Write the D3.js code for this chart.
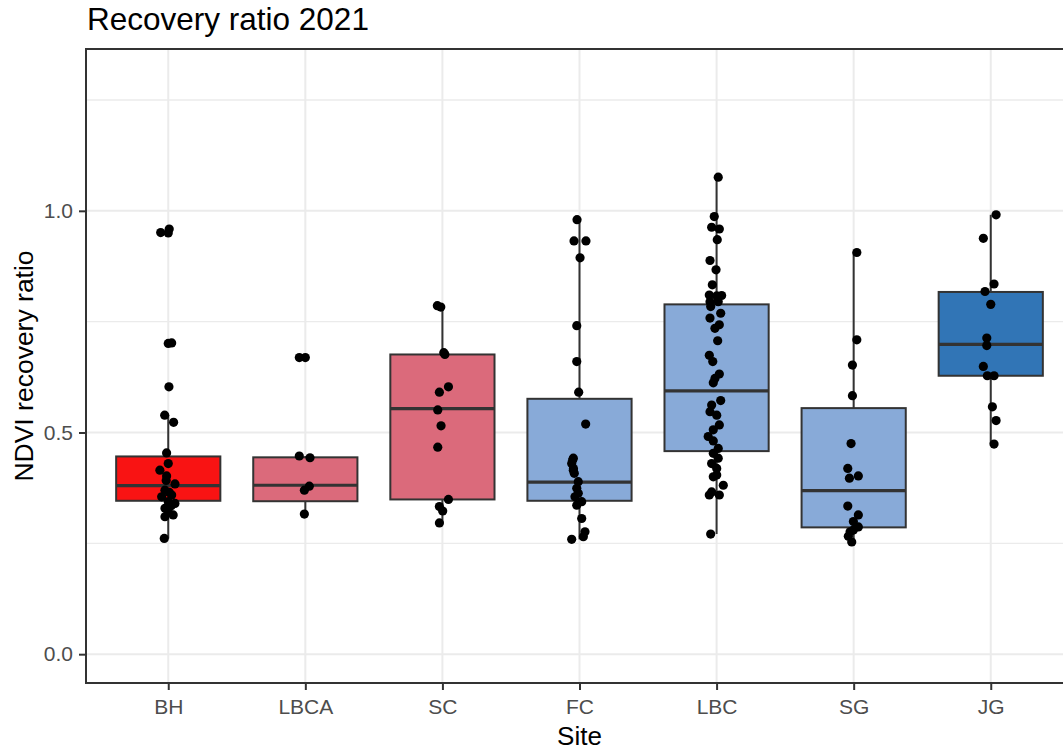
<!DOCTYPE html>
<html>
<head>
<meta charset="utf-8">
<script src="https://cdn.jsdelivr.net/npm/d3@7"></script>
<style>
  html, body { margin: 0; padding: 0; background: #ffffff; }
  svg { display: block; font-family: "Liberation Sans", Arial, sans-serif; }
</style>
</head>
<body>
<svg id="chart" width="1063" height="751"></svg>
<script>
// Sites along the x axis
const sites = ["BH", "LBCA", "SC", "FC", "LBC", "SG", "JG"];

// Box summaries per site (same order as sites)
const lowerWhisker = [0.261, 0.316, 0.296, 0.259, 0.271, 0.253, 0.474];
const lowerHinge   = [0.346, 0.345, 0.349, 0.346, 0.458, 0.286, 0.628];
const medians      = [0.380, 0.381, 0.554, 0.388, 0.594, 0.369, 0.699];
const upperHinge   = [0.446, 0.444, 0.676, 0.576, 0.789, 0.555, 0.817];
const upperWhisker = [0.539, 0.447, 0.786, 0.980, 1.076, 0.906, 0.991];

// Observations per site: [NDVI recovery ratio, horizontal jitter in site units]
const pointsBH = [
  [0.951, -0.055], [0.950, 0.000], [0.959, 0.007], [0.701, 0.000], [0.702, 0.025],
  [0.603, 0.005], [0.539, -0.026], [0.523, 0.039], [0.454, -0.012], [0.430, 0.000],
  [0.415, -0.061], [0.402, -0.012], [0.392, -0.015], [0.384, 0.049], [0.370, -0.024],
  [0.365, 0.007], [0.359, 0.025], [0.355, -0.048], [0.344, 0.000], [0.340, 0.049],
  [0.335, 0.022], [0.329, -0.024], [0.321, 0.000], [0.314, 0.036], [0.310, -0.024],
  [0.261, -0.029]
];
const pointsLBCA = [
  [0.669, -0.044], [0.669, 0.000], [0.447, -0.044], [0.443, 0.034],
  [0.379, 0.029], [0.370, -0.007], [0.316, -0.007]
];
const pointsSC = [
  [0.786, -0.037], [0.783, -0.012], [0.680, 0.010], [0.676, 0.018], [0.603, 0.044],
  [0.591, -0.022], [0.551, -0.034], [0.515, -0.010], [0.467, -0.034], [0.349, 0.044],
  [0.333, -0.022], [0.323, 0.002], [0.296, -0.022]
];
const pointsFC = [
  [0.980, -0.018], [0.932, -0.040], [0.932, 0.047], [0.894, 0.004], [0.741, -0.020],
  [0.660, -0.020], [0.591, -0.006], [0.519, 0.045], [0.442, -0.045], [0.438, -0.050],
  [0.430, -0.057], [0.419, -0.044], [0.415, -0.045], [0.408, -0.038], [0.389, -0.009],
  [0.374, -0.020], [0.363, -0.009], [0.355, -0.033], [0.344, 0.016], [0.336, -0.020],
  [0.306, 0.016], [0.276, 0.040], [0.265, 0.028], [0.259, -0.057]
];
const pointsLBC = [
  [1.076, 0.012], [0.987, -0.017], [0.963, -0.036], [0.959, 0.020], [0.935, 0.005],
  [0.888, -0.048], [0.867, -0.004], [0.833, -0.031], [0.810, -0.053], [0.808, 0.001],
  [0.809, 0.037], [0.795, -0.048], [0.795, 0.012], [0.784, -0.043], [0.769, 0.030],
  [0.758, -0.048], [0.743, 0.020], [0.735, -0.012], [0.707, 0.008], [0.674, -0.053],
  [0.660, -0.028], [0.632, 0.020], [0.622, -0.012], [0.612, -0.024], [0.572, 0.030],
  [0.562, -0.036], [0.547, -0.048], [0.539, 0.001], [0.517, 0.020], [0.506, -0.024],
  [0.491, -0.061], [0.481, -0.024], [0.464, 0.012], [0.453, -0.024], [0.442, 0.012],
  [0.430, -0.036], [0.419, 0.001], [0.404, 0.001], [0.400, -0.024], [0.381, 0.049],
  [0.366, -0.036], [0.359, -0.053], [0.359, 0.020], [0.271, -0.043]
];
const pointsSG = [
  [0.906, 0.023], [0.709, 0.023], [0.652, -0.009], [0.583, -0.009], [0.475, -0.019],
  [0.419, -0.043], [0.402, 0.034], [0.397, -0.031], [0.334, -0.043], [0.314, 0.034],
  [0.299, -0.002], [0.287, 0.034], [0.280, -0.002], [0.276, -0.026], [0.266, -0.039],
  [0.253, -0.014]
];
const pointsJG = [
  [0.991, 0.039], [0.938, -0.054], [0.835, 0.024], [0.818, -0.042], [0.789, 0.000],
  [0.713, -0.029], [0.696, -0.029], [0.649, -0.054], [0.628, -0.025], [0.628, 0.024],
  [0.558, 0.012], [0.527, 0.039], [0.474, 0.024]
];
const sitePoints = [pointsBH, pointsLBCA, pointsSC, pointsFC, pointsLBC, pointsSG, pointsJG];

// Y axis breaks
const majorBreaks = [0, 0.5, 1.0];
const minorBreaks = [0.25, 0.75, 1.25];

// Box fill per site
const boxFills = ["#F91313", "#DB6A7B", "#DB6A7B", "#88AAD8", "#88AAD8", "#88AAD8", "#3175B6"];

const svg = d3.select("#chart");
const W = 1063, H = 751;
const panel = { left: 86, right: 1073, top: 49, bottom: 683 };
const ink = "#333333";

svg.append("rect").attr("width", W).attr("height", H).attr("fill", "#ffffff");

const x = d3.scalePoint().domain(sites).range([panel.left, panel.right]).padding(0.6);
const step = x.step();
const y = d3.scaleLinear().domain([-0.065, 1.365]).range([panel.bottom, panel.top]);

const defs = svg.append("defs");
defs.append("clipPath").attr("id", "panel-clip")
  .append("rect")
  .attr("x", panel.left).attr("y", panel.top)
  .attr("width", panel.right - panel.left).attr("height", panel.bottom - panel.top);

const plot = svg.append("g").attr("clip-path", "url(#panel-clip)");

// Grid lines
plot.append("g").selectAll("line").data(minorBreaks).join("line")
  .attr("x1", panel.left).attr("x2", panel.right)
  .attr("y1", d => y(d)).attr("y2", d => y(d))
  .attr("stroke", "#EBEBEB").attr("stroke-width", 1.3);
plot.append("g").selectAll("line").data(majorBreaks).join("line")
  .attr("x1", panel.left).attr("x2", panel.right)
  .attr("y1", d => y(d)).attr("y2", d => y(d))
  .attr("stroke", "#EBEBEB").attr("stroke-width", 2);
plot.append("g").selectAll("line").data(sites).join("line")
  .attr("x1", d => x(d)).attr("x2", d => x(d))
  .attr("y1", panel.top).attr("y2", panel.bottom)
  .attr("stroke", "#EBEBEB").attr("stroke-width", 2);

// Boxplots
const boxW = 0.76 * step;
const boxes = plot.append("g").selectAll("g").data(sites).join("g");
boxes.append("line")
  .attr("x1", d => x(d)).attr("x2", d => x(d))
  .attr("y1", (d, i) => y(upperHinge[i])).attr("y2", (d, i) => y(upperWhisker[i]))
  .attr("stroke", ink).attr("stroke-width", 2);
boxes.append("line")
  .attr("x1", d => x(d)).attr("x2", d => x(d))
  .attr("y1", (d, i) => y(lowerHinge[i])).attr("y2", (d, i) => y(lowerWhisker[i]))
  .attr("stroke", ink).attr("stroke-width", 2);
boxes.append("rect")
  .attr("x", d => x(d) - boxW / 2).attr("width", boxW)
  .attr("y", (d, i) => y(upperHinge[i]))
  .attr("height", (d, i) => y(lowerHinge[i]) - y(upperHinge[i]))
  .attr("fill", (d, i) => boxFills[i])
  .attr("stroke", ink).attr("stroke-width", 2);
boxes.append("line")
  .attr("x1", d => x(d) - boxW / 2).attr("x2", d => x(d) + boxW / 2)
  .attr("y1", (d, i) => y(medians[i])).attr("y2", (d, i) => y(medians[i]))
  .attr("stroke", ink).attr("stroke-width", 3.2);

// Jittered observations
const pts = sites.flatMap((s, i) => sitePoints[i].map(([v, j]) => ({ site: s, v, j })));
plot.append("g").selectAll("circle").data(pts).join("circle")
  .attr("cx", d => x(d.site) + d.j * step)
  .attr("cy", d => y(d.v))
  .attr("r", 4.6)
  .attr("fill", "#000000");

// Panel border
svg.append("rect")
  .attr("x", panel.left).attr("y", panel.top)
  .attr("width", panel.right - panel.left).attr("height", panel.bottom - panel.top)
  .attr("fill", "none").attr("stroke", ink).attr("stroke-width", 2);

// Axes
const yAxis = svg.append("g").attr("transform", `translate(${panel.left},0)`)
  .call(d3.axisLeft(y).tickValues(majorBreaks).tickFormat(d3.format(".1f")).tickSize(7).tickPadding(6));
const xAxis = svg.append("g").attr("transform", `translate(0,${panel.bottom})`)
  .call(d3.axisBottom(x).tickSize(7).tickPadding(9));
[yAxis, xAxis].forEach(a => {
  a.select(".domain").remove();
  a.selectAll(".tick line").attr("stroke", ink).attr("stroke-width", 2);
  a.selectAll(".tick text")
    .attr("fill", "#4D4D4D")
    .style("font-size", "21px")
    .style("font-family", "'Liberation Sans', Arial, sans-serif");
});

// Titles
svg.append("text")
  .attr("x", 87).attr("y", 30)
  .attr("fill", "#000000")
  .style("font-size", "31.5px")
  .text("Recovery ratio 2021");

svg.append("text")
  .attr("x", (panel.left + panel.right) / 2).attr("y", 745)
  .attr("text-anchor", "middle")
  .attr("fill", "#000000")
  .style("font-size", "26px")
  .text("Site");

svg.append("text")
  .attr("transform", `translate(33,${(panel.top + panel.bottom) / 2}) rotate(-90)`)
  .attr("text-anchor", "middle")
  .attr("fill", "#000000")
  .style("font-size", "26.5px")
  .text("NDVI recovery ratio");
</script>
</body>
</html>
